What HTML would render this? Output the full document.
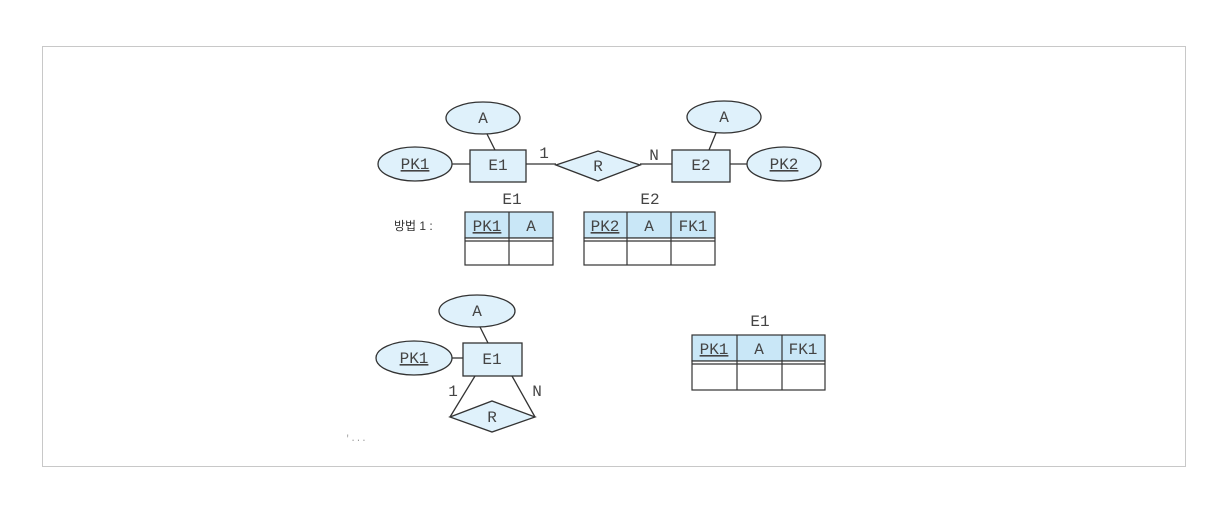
<!DOCTYPE html>
<html><head><meta charset="utf-8"><style>
html,body{margin:0;padding:0;background:#fff;width:1230px;height:514px;overflow:hidden}
svg text{font-family:"Liberation Mono",monospace;font-size:16px;fill:#444}
</style></head><body>
<svg width="1230" height="514" xmlns="http://www.w3.org/2000/svg">
<rect x="42.5" y="46.5" width="1143" height="420" fill="#fff" stroke="#c8c8c8"/>
<g stroke="#333" stroke-width="1.3" fill="#dff1fb">
<!-- top -->
<line x1="452" y1="164" x2="470" y2="164"/>
<line x1="495" y1="150" x2="487" y2="134"/>
<line x1="526" y1="164" x2="556" y2="164"/>
<line x1="640" y1="164" x2="672" y2="164"/>
<line x1="709" y1="150" x2="716" y2="133"/>
<line x1="730" y1="164" x2="747" y2="164"/>
<ellipse cx="483" cy="118" rx="37" ry="16"/>
<ellipse cx="415" cy="164" rx="37" ry="17"/>
<rect x="470" y="150" width="56" height="32"/>
<polygon points="556,165 598,151 640,165 598,181"/>
<rect x="672" y="150" width="58" height="32"/>
<ellipse cx="724" cy="117" rx="37" ry="16"/>
<ellipse cx="784" cy="164" rx="37" ry="17"/>
<!-- bottom -->
<line x1="452" y1="358" x2="463" y2="358"/>
<line x1="488" y1="343" x2="480" y2="327"/>
<line x1="475" y1="376" x2="450" y2="417"/>
<line x1="512" y1="376" x2="535" y2="417"/>
<ellipse cx="477" cy="311" rx="38" ry="16"/>
<ellipse cx="414" cy="358" rx="38" ry="17"/>
<rect x="463" y="343" width="59" height="33"/>
<polygon points="450,417 492,401 535,417 492,432"/>
</g>
<!-- tables -->
<g stroke="#333" stroke-width="1.2">
<rect x="465" y="212" width="88" height="26" fill="#c9e7f7"/>
<rect x="465" y="238" width="88" height="27" fill="#fff"/>
<line x1="465" y1="241" x2="553" y2="241"/>
<line x1="509" y1="212" x2="509" y2="265"/>
<rect x="584" y="212" width="131" height="26" fill="#c9e7f7"/>
<rect x="584" y="238" width="131" height="27" fill="#fff"/>
<line x1="584" y1="241" x2="715" y2="241"/>
<line x1="627" y1="212" x2="627" y2="265"/>
<line x1="671" y1="212" x2="671" y2="265"/>
<rect x="692" y="335" width="133" height="26" fill="#c9e7f7"/>
<rect x="692" y="361" width="133" height="29" fill="#fff"/>
<line x1="692" y1="364" x2="825" y2="364"/>
<line x1="737" y1="335" x2="737" y2="390"/>
<line x1="782" y1="335" x2="782" y2="390"/>
</g>
<g text-anchor="middle">
<text x="483" y="123">A</text>
<text x="415" y="169" text-decoration="underline">PK1</text>
<text x="498" y="170">E1</text>
<text x="598" y="171">R</text>
<text x="701" y="170">E2</text>
<text x="724" y="122">A</text>
<text x="784" y="169" text-decoration="underline">PK2</text>
<text x="544" y="158">1</text>
<text x="654" y="160">N</text>
<text x="512" y="204">E1</text>
<text x="650" y="204">E2</text>
<text x="487" y="231" text-decoration="underline">PK1</text>
<text x="531" y="231">A</text>
<text x="605" y="231" text-decoration="underline">PK2</text>
<text x="649" y="231">A</text>
<text x="693" y="231">FK1</text>
<text x="477" y="316">A</text>
<text x="414" y="363" text-decoration="underline">PK1</text>
<text x="492" y="364">E1</text>
<text x="492" y="422">R</text>
<text x="453" y="396">1</text>
<text x="537" y="396">N</text>
<text x="760" y="326">E1</text>
<text x="714" y="354" text-decoration="underline">PK1</text>
<text x="759" y="354">A</text>
<text x="803" y="354">FK1</text>
</g>
<text x="394" y="230" style="font-family:'Liberation Sans','Noto Sans CJK KR',sans-serif;font-size:12px;fill:#333">방법 1 :</text>
<text x="345" y="441" style="font-size:9px;fill:#999">'...</text>
</svg>
</body></html>
